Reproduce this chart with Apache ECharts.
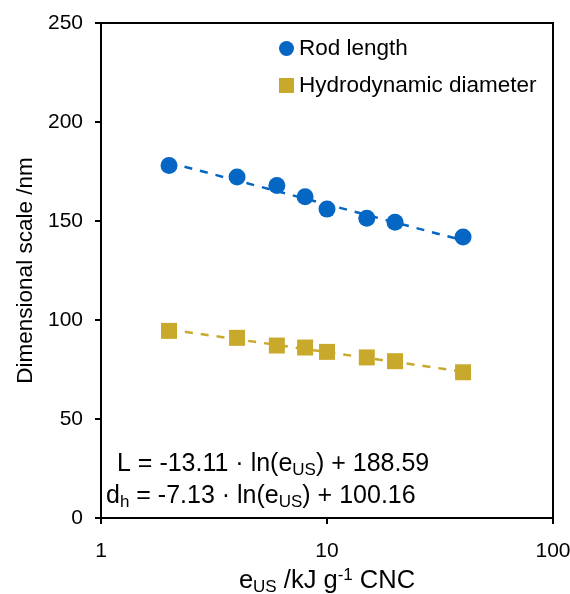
<!DOCTYPE html>
<html>
<head>
<meta charset="utf-8">
<script src="https://cdn.jsdelivr.net/npm/echarts@6/dist/echarts.min.js"></script>
<style>
  html, body { margin: 0; padding: 0; background: #fff; }
  #chart { width: 570px; height: 594px; }
</style>
</head>
<body>
<div id="chart"></div>
<script>
// energy input (kJ g-1 CNC)
var energy = [2, 4, 6, 8, 10, 15, 20, 40];
var rodLength = [178.0, 172.2, 167.9, 162.3, 156.0, 151.4, 149.4, 141.9];
var hydroDiameter = [94.5, 91.0, 87.1, 86.1, 83.9, 81.1, 79.2, 73.6];
// log fits, read at the ends of the dashed lines
var fitX = [2, 40];
var rodFit = [179.5, 140.2];
var hydroFit = [95.2, 73.9];

var blue = '#0566c3';
var gold = '#c9a92c';
var font = 'Liberation Sans, Arial, sans-serif';

function pairs(xs, ys) {
    return xs.map(function(x, i) { return [x, ys[i]]; });
}

var chart = echarts.init(document.getElementById('chart'));
chart.setOption({
    animation: false,
    textStyle: { fontFamily: font, color: '#000' },
    grid: {
        left: 101, right: 17, top: 23, bottom: 76,
        outerBoundsMode: 'none', containLabel: false,
        show: true, borderColor: '#000', borderWidth: 2
    },
    legend: {
        orient: 'vertical',
        left: 279, top: 37,
        padding: 0,
        itemWidth: 15, itemHeight: 15,
        itemGap: 14,
        textStyle: { fontSize: 22.5, color: '#000', fontFamily: font },
        data: [
            { name: 'Rod length', icon: 'circle' },
            { name: 'Hydrodynamic diameter', icon: 'rect' }
        ]
    },
    xAxis: {
        type: 'log', logBase: 10, min: 1, max: 100,
        name: 'e{sub|US} /kJ g{sup|-1} CNC',
        nameLocation: 'middle', nameGap: 47,
        nameTextStyle: {
            fontSize: 25.5, color: '#000', fontFamily: font,
            rich: {
                sub: { fontSize: 17, padding: [12, 0, 0, 0], fontFamily: font },
                sup: { fontSize: 17, padding: [0, 0, 12, 0], fontFamily: font }
            }
        },
        axisLine: { lineStyle: { color: '#000', width: 2 } },
        axisTick: { show: true, inside: false, length: 6, lineStyle: { color: '#000', width: 2 } },
        minorTick: { show: false },
        axisLabel: { fontSize: 21, color: '#000', margin: 23, fontFamily: font },
        splitLine: { show: false }
    },
    yAxis: {
        type: 'value', min: 0, max: 250, interval: 50,
        name: 'Dimensional scale /nm',
        nameLocation: 'middle', nameGap: 64,
        nameTextStyle: { fontSize: 22.5, color: '#000', fontFamily: font },
        axisLine: { show: true, lineStyle: { color: '#000', width: 2 } },
        axisTick: { show: true, inside: false, length: 6, lineStyle: { color: '#000', width: 2 } },
        axisLabel: { fontSize: 21, color: '#000', margin: 18, fontFamily: font },
        splitLine: { show: false }
    },
    series: [
        {
            name: 'Rod fit', type: 'line', data: pairs(fitX, rodFit),
            symbol: 'none', lineStyle: { color: blue, width: 2.5, type: [8, 8] },
            z: 1
        },
        {
            name: 'Hydro fit', type: 'line', data: pairs(fitX, hydroFit),
            symbol: 'none', lineStyle: { color: gold, width: 2.5, type: [8, 8] },
            z: 1
        },
        {
            name: 'Rod length', type: 'scatter', data: pairs(energy, rodLength),
            symbol: 'circle', symbolSize: 17, itemStyle: { color: blue, opacity: 1 },
            z: 3
        },
        {
            name: 'Hydrodynamic diameter', type: 'scatter', data: pairs(energy, hydroDiameter),
            symbol: 'rect', symbolSize: 16, itemStyle: { color: gold, opacity: 1 },
            z: 3
        }
    ],
    graphic: [
        {
            type: 'text', left: 117, top: 452,
            style: {
                text: 'L = -13.11 · ln(e{sub|US}) + 188.59',
                fontSize: 25, fontFamily: font, fill: '#000',
                rich: { sub: { fontSize: 17, padding: [12, 0, 0, 0], fontFamily: font } }
            }
        },
        {
            type: 'text', left: 106, top: 484,
            style: {
                text: 'd{sub|h} = -7.13 · ln(e{sub|US}) + 100.16',
                fontSize: 25, fontFamily: font, fill: '#000',
                rich: { sub: { fontSize: 17, padding: [12, 0, 0, 0], fontFamily: font } }
            }
        }
    ]
});
</script>
</body>
</html>
